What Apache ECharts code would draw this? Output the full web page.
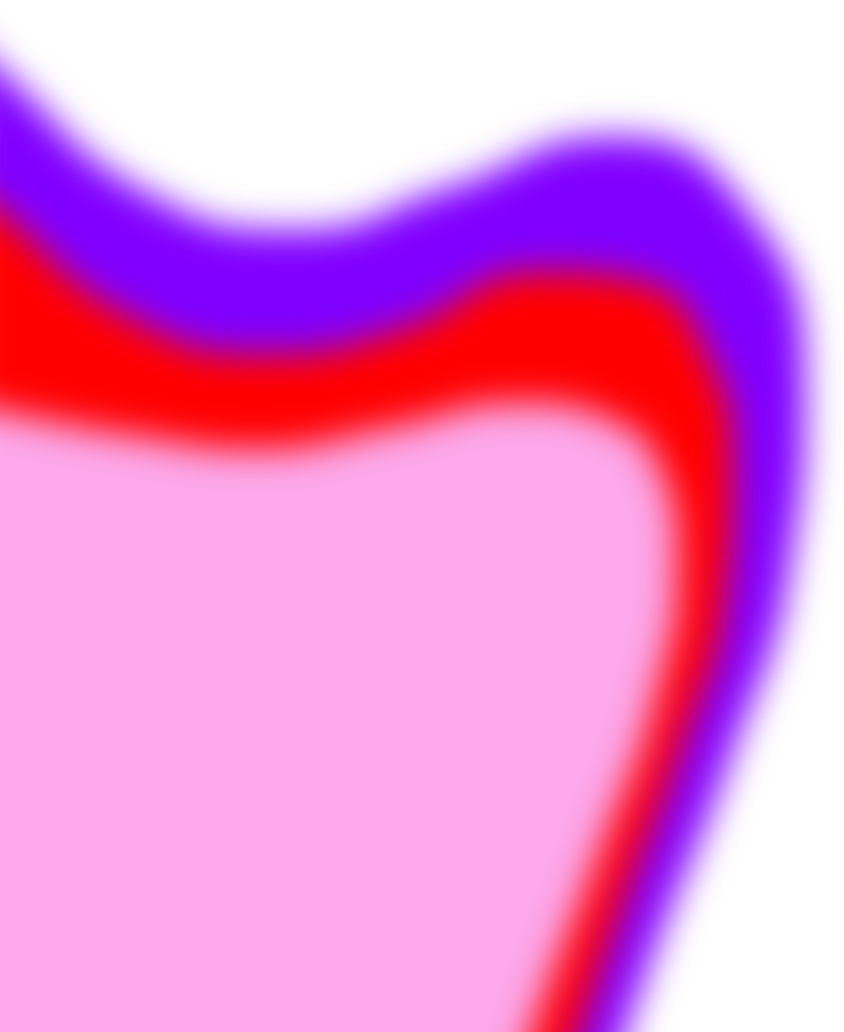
<!DOCTYPE html>
<html>
<head>
<meta charset="utf-8">
<title>Blurred areas</title>
<script src="https://cdn.jsdelivr.net/npm/echarts@6/dist/echarts.min.js"></script>
<style>
    html, body { margin: 0; padding: 0; background: #fff; overflow: hidden; width: 844px; height: 1032px; }
    /* the chart runs a little past the page edges so the blur does not fade there */
    #chart { position: absolute; left: -42px; top: -52px; width: 928px; height: 1135px; filter: blur(18px); }
</style>
</head>
<body>
<div id="chart"></div>
<script>
// outline points [x, y] of each shape, x and y in percent of the picture
const purplePoints = [
    [-4.0, 96.6], [0, 93.2], [17.8, 81.1], [35.5, 77.7], [53.3, 81.8], [72.3, 86.7],
    [87.1, 81.1], [95.4, 63.2], [93.6, 44.8], [86.5, 26.4], [77.6, 7.9], [72.6, -3.7]
];
const redPoints = [
    [-4.0, 82.6], [0, 79.5], [15.4, 69.2], [32.0, 65.6], [47.4, 68.0], [64.0, 73.6],
    [75.8, 72.7], [84.1, 65.1], [86.8, 54.5], [85.9, 41.9], [80.6, 27.3], [73.5, 11.8],
    [67.1, -3.7]
];
const pinkPoints = [
    [-4.0, 60.8], [0, 60.1], [15.4, 57.8], [30.8, 56.4], [46.2, 58.5], [61.6, 60.9],
    [72.3, 59.3], [78.2, 54.5], [80.2, 45.7], [77.6, 32.2], [71.1, 17.6], [63.6, 1.5],
    [61.6, -3.7]
];
const seriesNames = ['purple', 'red', 'pink'];
const seriesColors = ['#8000ff', '#ff0000', '#fca8ea'];

const chart = echarts.init(document.getElementById('chart'), null, { renderer: 'canvas' });

function areaSeries(name, data, color) {
    return {
        name: name,
        type: 'line',
        data: data,
        smooth: 0.5,
        showSymbol: false,
        lineStyle: { width: 0, opacity: 0 },
        itemStyle: { color: color },
        areaStyle: { color: color, opacity: 1, origin: 'start' }
    };
}

chart.setOption({
    animation: false,
    grid: { left: 0, right: 0, top: 0, bottom: 0 },
    xAxis: { type: 'value', min: -5, max: 105, show: false },
    yAxis: { type: 'value', min: -5, max: 105, show: false },
    series: [
        areaSeries(seriesNames[0], purplePoints, seriesColors[0]),
        areaSeries(seriesNames[1], redPoints, seriesColors[1]),
        areaSeries(seriesNames[2], pinkPoints, seriesColors[2])
    ]
});

window.addEventListener('resize', () => {
    chart && chart.resize();
});
</script>
</body>
</html>
